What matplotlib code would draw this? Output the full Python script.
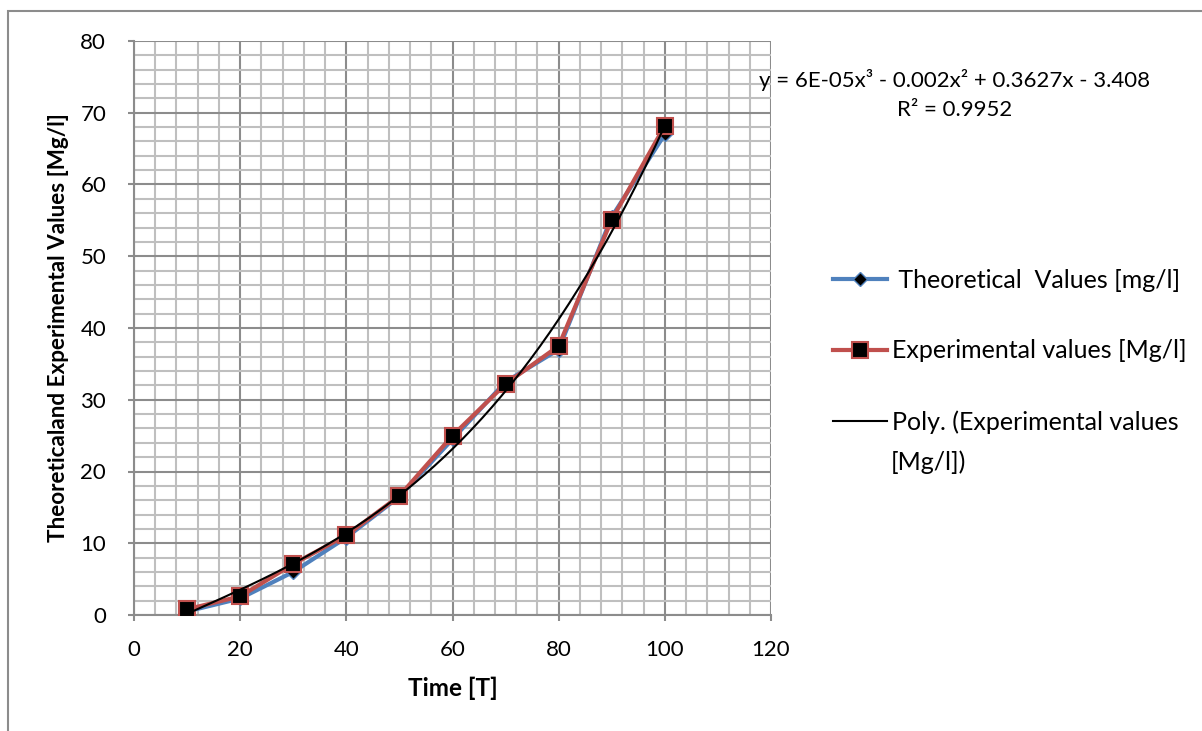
import matplotlib.pyplot as plt
import numpy as np
from matplotlib.patches import Rectangle
from matplotlib.ticker import MultipleLocator

# Data
time = [10, 20, 30, 40, 50, 60, 70, 80, 90, 100]
theoretical = [0.5, 2.3, 6.0, 10.8, 16.5, 24.5, 32.5, 37.0, 55.5, 67.0]
experimental = [0.8, 2.6, 7.1, 11.1, 16.6, 25.0, 32.2, 37.5, 55.1, 68.2]

x_ticks = [0, 20, 40, 60, 80, 100, 120]
y_ticks = [0, 10, 20, 30, 40, 50, 60, 70, 80]

plt.rcParams['font.family'] = ['Lato', 'DejaVu Sans']

fig = plt.figure(figsize=(12.02, 7.31), dpi=100)
ax = fig.add_axes([134 / 1202, 1 - 615 / 731, (771 - 134) / 1202, (615 - 41) / 731])

# outer chart border
fig.patches.append(Rectangle((8 / 1202, -0.1), 1.2, 1 - 11 / 731 + 0.1,
                             transform=fig.transFigure, fill=False,
                             edgecolor='#8c8c8c', lw=1.5, zorder=0))

# polynomial trend of the experimental values
coef = np.polyfit(time, experimental, 3)
xs = np.linspace(min(time), max(time), 200)
trend = np.polyval(coef, xs)

ax.plot(time, theoretical, color='#4f81bd', lw=3, marker='D', ms=7,
        mfc='black', mec='#4f81bd', mew=1, label=' Theoretical  Values [mg/l]', zorder=3)
ax.plot(time, experimental, color='#c0504d', lw=3, marker='s', ms=11,
        mfc='black', mec='#c0504d', mew=1.5, label='Experimental values [Mg/l]', zorder=4)
ax.plot(xs, trend, color='black', lw=1.5, label='Poly. (Experimental values', zorder=5)

ax.set_xlim(0, 120)
ax.set_ylim(0, 80)
ax.set_xticks(x_ticks)
ax.set_yticks(y_ticks)
ax.xaxis.set_minor_locator(MultipleLocator(4))
ax.yaxis.set_minor_locator(MultipleLocator(2))
ax.grid(True, which='major', color='#8c8c8c', lw=1.5)
ax.grid(True, which='minor', color='#bfbfbf', lw=1.5)
ax.set_axisbelow(True)

for s in ['top', 'right']:
    ax.spines[s].set_visible(False)
for s in ['left', 'bottom']:
    ax.spines[s].set_color('#8c8c8c')
    ax.spines[s].set_linewidth(1.5)
ax.tick_params(which='major', length=4, width=1.5, color='#8c8c8c', labelsize=16)
ax.tick_params(axis='x', pad=14)
ax.tick_params(axis='y', pad=16)
ax.tick_params(which='minor', length=0)

ax.set_xlabel('Time [T]', fontsize=17.5, fontweight='bold', labelpad=12)
ax.set_ylabel('Theoreticaland Experimental Values [Mg/l]', fontsize=16.2,
              fontweight='bold', labelpad=8)

fig.text(955 / 1202, 1 - 80 / 731, 'y = 6E-05x³ - 0.002x² + 0.3627x - 3.408',
         ha='center', va='center', fontsize=16)
fig.text(955 / 1202, 1 - 110 / 731, 'R² = 0.9952', ha='center', va='center', fontsize=16)

ax.legend(loc='upper left', bbox_to_anchor=(833 / 1202, 1 - 269 / 731),
          bbox_transform=fig.transFigure, frameon=False, fontsize=18,
          borderaxespad=0, borderpad=0,
          handlelength=2.15, handletextpad=0.2, labelspacing=1.9)
# wrapped second line of the trend-line legend entry
fig.text(891 / 1202, 1 - 462 / 731, '[Mg/l])', ha='left', va='center', fontsize=18)

fig.savefig('out.png', dpi=100)
